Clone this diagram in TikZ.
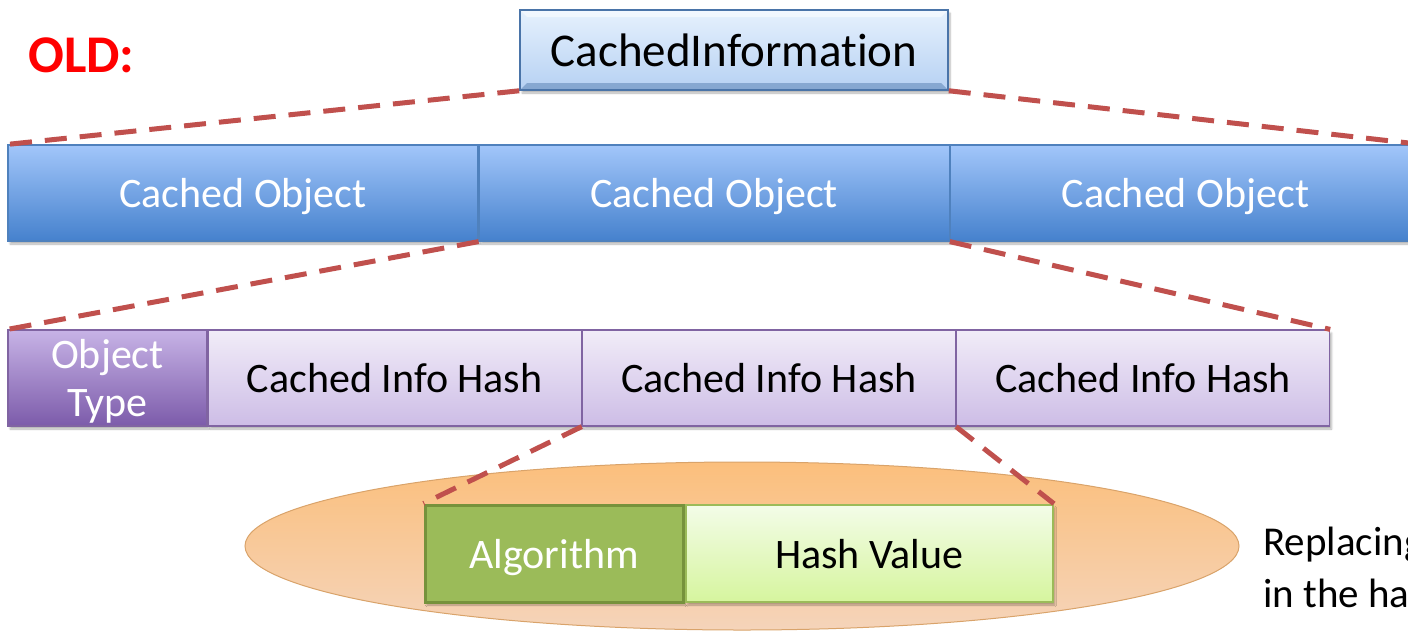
\documentclass[tikz,border=0pt]{standalone}
\usepackage{fontspec}
\setmainfont{Carlito}[Ligatures=NoCommon]
\usetikzlibrary{positioning,shapes.geometric,shadows.blur}
\definecolor{dashred}{HTML}{C0504D}
\definecolor{infotop}{HTML}{E6F1FD}
\definecolor{infobot}{HTML}{B6D1F3}
\definecolor{infoedge}{HTML}{4A74A8}
\definecolor{objtop}{HTML}{A2C6FA}
\definecolor{objbot}{HTML}{4581CD}
\definecolor{objedge}{HTML}{4F81BD}
\definecolor{hashtop}{HTML}{F1ECF8}
\definecolor{hashbot}{HTML}{CDBDE6}
\definecolor{hashedge}{HTML}{8064A2}
\definecolor{typetop}{HTML}{C7B3E6}
\definecolor{typebot}{HTML}{7C5BAA}
\definecolor{algfill}{HTML}{9BBB59}
\definecolor{algedge}{HTML}{76923C}
\definecolor{valtop}{HTML}{F3FCE8}
\definecolor{valbot}{HTML}{D6F59E}
\definecolor{ovaltop}{HTML}{FBBF7C}
\definecolor{ovalbot}{HTML}{F5D4BA}
\definecolor{ovaledge}{HTML}{D9A36A}
\newcommand{\pxfont}[1]{\fontsize{#1}{#1}\selectfont}

\begin{document}
\begin{tikzpicture}[
      x=1pt, y=-1pt,
      every node/.style={inner sep=0pt, font=\pxfont{42}},
      boxshadow/.style={blur shadow={shadow xshift=2pt, shadow yshift=-3pt,
          shadow blur steps=6, shadow opacity=30}},
      infobox/.style={rectangle, draw=infoedge, line width=1.5pt, boxshadow,
          top color=infotop, bottom color=infobot, font=\pxfont{47},
          minimum width=428pt, minimum height=80pt,
          path picture={
            \fill[white, opacity=.5] (path picture bounding box.north west)
              -- (path picture bounding box.north east)
              -- ([xshift=-7pt, yshift=-7pt]path picture bounding box.north east)
              -- ([xshift=7pt, yshift=-7pt]path picture bounding box.north west) -- cycle;
            \fill[infoedge, opacity=.45] (path picture bounding box.south west)
              -- (path picture bounding box.south east)
              -- ([xshift=-7pt, yshift=7pt]path picture bounding box.south east)
              -- ([xshift=7pt, yshift=7pt]path picture bounding box.south west) -- cycle;
          }},
      objbox/.style={rectangle, draw=objedge, line width=1.2pt, boxshadow,
          top color=objtop, bottom color=objbot, text=white, text depth=0pt,
          minimum width=470pt, minimum height=96pt},
      hashbox/.style={rectangle, draw=hashedge, line width=1.2pt, boxshadow,
          top color=hashtop, bottom color=hashbot, text depth=0pt,
          minimum width=373pt, minimum height=96pt},
      typebox/.style={hashbox, top color=typetop, bottom color=typebot,
          text=white, align=center, minimum width=199pt},
      algbox/.style={rectangle, draw=algedge, line width=3pt, fill=algfill,
          text=white, text depth=0pt, boxshadow,
          minimum width=258pt, minimum height=97pt},
      valbox/.style={rectangle, draw=algfill, line width=2.5pt, boxshadow,
          top color=valtop, bottom color=valbot, text depth=0pt,
          minimum width=367pt, minimum height=97pt},
      oval/.style={ellipse, draw=ovaledge, line width=1pt,
          top color=ovaltop, bottom color=ovalbot,
          minimum width=994pt, minimum height=168pt},
      dashlink/.style={draw=dashred, line width=5pt, dash pattern=on 22pt off 13pt}
    ]
      \useasboundingbox (0,0) rectangle (1408,633);

      \node[anchor=base west, text=red, font=\pxfont{53}\bfseries] (old) at (28,72) {OLD:};
      \node[infobox] (info) at (734,50) {CachedInformation};

      \node[objbox] (obj1) at (243,193) {Cached Object};
      \node[objbox, right=0pt of obj1] (obj2) {Cached Object};
      \node[objbox, right=0pt of obj2] (obj3) {Cached Object};

      \node[typebox] (type) at (107.5,378) {Object\\[6pt]Type};
      \node[hashbox, right=0pt of type] (hash1) {Cached Info Hash};
      \node[hashbox, right=0pt of hash1] (hash2) {Cached Info Hash};
      \node[hashbox, right=0pt of hash2] (hash3) {Cached Info Hash};

      \node[oval] (disc) at (742,546) {};
      \node[algbox] (alg) at (554,553.5) {Algorithm};
      \node[valbox, right=0pt of alg] (val) {Hash Value};

      \node[anchor=base west, align=left, font=\pxfont{41}] (note) at (1263,607)
        {Replacing\\[11pt]in the ha};

      \draw[dashlink] (info.south west) -- (obj1.north west);
      \draw[dashlink] (info.south east) -- (obj3.north east);
      \draw[dashlink] (obj2.south west) -- (type.north west);
      \draw[dashlink] (obj2.south east) -- (hash3.north east);
      \draw[dashlink] (hash2.south west) -- (alg.north west);
      \draw[dashlink] (hash2.south east) -- (val.north east);
    \end{tikzpicture}
\end{document}
